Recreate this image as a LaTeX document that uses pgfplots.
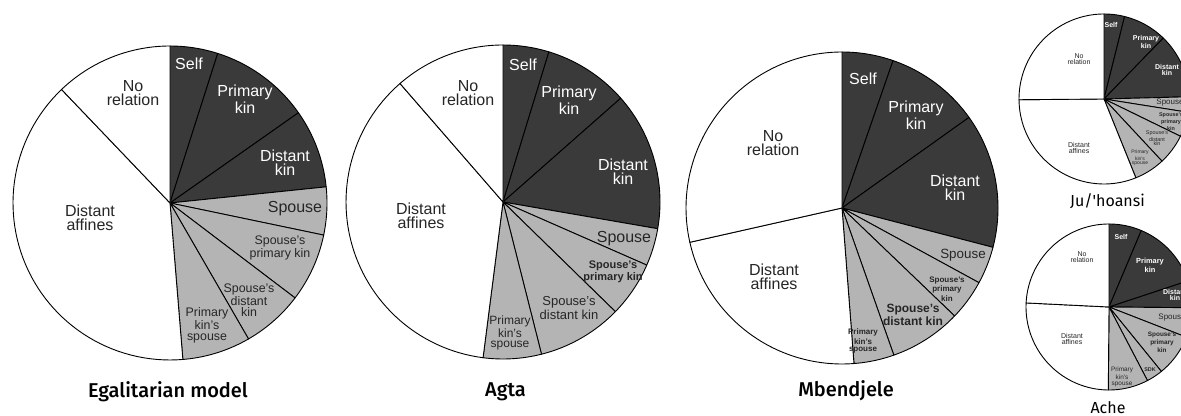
\documentclass[border=0pt]{standalone}
\usepackage{pgfplots}
\pgfplotsset{compat=1.18}
\usepackage{fontspec}
\setmainfont{Liberation Sans}
\newfontfamily\titlefont{Fira Sans Medium}
\newfontfamily\subfont{Fira Sans}

\definecolor{darkslice}{HTML}{3A3A3A}
\definecolor{lightslice}{HTML}{B4B4B4}
\definecolor{ink}{HTML}{262626}

% one pie = one hidden axis, radius 1 in axis units
\pgfplotsset{pie/.style={hide axis, scale only axis, width=#1, height=#1,
    xmin=-1, xmax=1, ymin=-1, ymax=1, anchor=center, clip=false}}

% slice from angle #1 to #2 (degrees, clockwise from 12 o'clock)
\newcommand{\slice}[3]{%
  \addplot[draw=black, line width=0.45pt, line join=round, fill=#3,
           domain=#1:#2, samples=60] ({sin(x)},{cos(x)}) -- (axis cs:0,0) -- cycle;}

% label in image pixels: x, y, size, colour, text
\newcommand{\lab}[5]{%
  \pgfmathsetmacro\labbs{#3*0.86}%
  \node[align=center, inner sep=0pt, text=#4,
        font=\fontsize{#3}{\labbs}\selectfont] at (#1,#2) {#5};}

\begin{document}
\begin{tikzpicture}
\useasboundingbox (0,0) rectangle (590.5pt,208pt);
\clip (0,0) rectangle (590.5pt,208pt);

% Egalitarian model
\begin{axis}[pie=157pt, at={(85pt,106.5pt)}]
\slice{0}{17.7}{darkslice}
\slice{17.7}{54.9}{darkslice}
\slice{54.9}{84.1}{darkslice}
\slice{84.1}{101.8}{lightslice}
\slice{101.8}{127.2}{lightslice}
\slice{127.2}{150}{lightslice}
\slice{150}{175.3}{lightslice}
\slice{175.3}{316.3}{white}
\slice{316.3}{360}{white}
\end{axis}

% Agta
\begin{axis}[pie=157pt, at={(251.5pt,107pt)}]
\slice{0}{17}{darkslice}
\slice{17}{48.6}{darkslice}
\slice{48.6}{99.8}{darkslice}
\slice{99.8}{113.7}{lightslice}
\slice{113.7}{134.3}{lightslice}
\slice{134.3}{165.8}{lightslice}
\slice{165.8}{187.3}{lightslice}
\slice{187.3}{319}{white}
\slice{319}{360}{white}
\end{axis}

% Mbendjele
\begin{axis}[pie=156pt, at={(421pt,104pt)}]
\slice{0}{19.1}{darkslice}
\slice{19.1}{54.5}{darkslice}
\slice{54.5}{104.6}{darkslice}
\slice{104.6}{118.6}{lightslice}
\slice{118.6}{133.8}{lightslice}
\slice{133.8}{160.6}{lightslice}
\slice{160.6}{175.6}{lightslice}
\slice{175.6}{257.3}{white}
\slice{257.3}{360}{white}
\end{axis}

% Ju/'hoansi
\begin{axis}[pie=85pt, at={(552pt,158.5pt)}]
\slice{0}{14}{darkslice}
\slice{14}{44.2}{darkslice}
\slice{44.2}{88.5}{darkslice}
\slice{88.5}{99}{lightslice}
\slice{99}{116}{lightslice}
\slice{116}{137}{lightslice}
\slice{137}{158}{lightslice}
\slice{158}{269.5}{white}
\slice{269.5}{360}{white}
\end{axis}

% Ache
\begin{axis}[pie=83pt, at={(554.5pt,54.5pt)}]
\slice{0}{22.9}{darkslice}
\slice{22.9}{71.7}{darkslice}
\slice{71.7}{90.5}{darkslice}
\slice{90.5}{111.3}{lightslice}
\slice{111.3}{140.9}{lightslice}
\slice{140.9}{152.4}{lightslice}
\slice{152.4}{180.5}{lightslice}
\slice{180.5}{272.8}{white}
\slice{272.8}{360}{white}
\end{axis}

\begin{scope}[x=0.5pt, y=-0.5pt, shift={(0,208pt)}]
% Egalitarian model
\lab{189}{64}{8}{white}{Self}
\lab{245}{99}{8}{white}{Primary\\kin}
\lab{285}{163}{8}{white}{Distant\\kin}
\lab{295}{209}{8}{ink}{Spouse}
\lab{280}{248}{6.2}{ink}{Spouse's\\primary kin}
\lab{249}{300}{6.2}{ink}{Spouse's\\distant\\kin}
\lab{207}{325}{6.2}{ink}{Primary\\kin's\\spouse}
\lab{90}{218}{8}{ink}{Distant\\affines}
\lab{133}{93}{8}{ink}{No\\relation}
% Agta
\lab{523}{65}{8}{white}{Self}
\lab{569}{100}{8}{white}{Primary\\kin}
\lab{623}{172}{8}{white}{Distant\\kin}
\lab{624}{239}{8}{ink}{Spouse}
\lab{613}{272}{5.5}{ink}{\bfseries Spouse's\\\bfseries primary kin}
\lab{569}{308}{6.5}{ink}{Spouse's\\distant kin}
\lab{510}{333}{6}{ink}{Primary\\kin's\\spouse}
\lab{421}{216}{8}{ink}{Distant\\affines}
\lab{468}{93}{8}{ink}{No\\relation}
% Mbendjele
\lab{863}{79}{8}{white}{Self}
\lab{916}{115}{8}{white}{Primary\\kin}
\lab{955}{188}{8}{white}{Distant\\kin}
\lab{963}{255}{6.7}{ink}{Spouse}
\lab{947}{289}{4}{ink}{\bfseries Spouse's\\\bfseries primary\\\bfseries kin}
\lab{913}{315}{6}{ink}{\bfseries Spouse's\\\bfseries distant kin}
\lab{863}{341}{4}{ink}{\bfseries Primary\\\bfseries kin's\\\bfseries spouse}
\lab{774}{277}{8}{ink}{Distant\\affines}
\lab{773}{143}{8}{ink}{No\\relation}
% Ju/'hoansi
\lab{1111}{25}{3.5}{white}{\bfseries Self}
\lab{1146}{42}{3.5}{white}{\bfseries Primary\\\bfseries kin}
\lab{1167}{70}{3.5}{white}{\bfseries Distant\\\bfseries kin}
\lab{1170}{103}{4}{ink}{Spouse}
\lab{1171}{122}{2.7}{ink}{\bfseries Spouse's\\\bfseries primary\\\bfseries kin}
\lab{1157}{138}{2.7}{ink}{Spouse's\\distant\\kin}
\lab{1140}{158}{2.5}{ink}{Primary\\kin's\\spouse}
\lab{1079}{148}{3.5}{ink}{Distant\\affines}
\lab{1079}{59}{3.5}{ink}{No\\relation}
% Ache
\lab{1121}{237}{3.5}{white}{\bfseries Self}
\lab{1150}{265}{3.7}{white}{\bfseries Primary\\\bfseries kin}
\lab{1175}{295}{3.5}{white}{\bfseries Distant\\\bfseries kin}
\lab{1172}{318}{4}{ink}{Spouse}
\lab{1162}{342}{3.2}{ink}{\bfseries Spouse's\\\bfseries primary\\\bfseries kin}
\lab{1150}{370}{2.7}{ink}{\bfseries SDK}
\lab{1122}{377}{3.2}{ink}{Primary\\kin's\\spouse}
\lab{1072}{339}{3.5}{ink}{Distant\\affines}
\lab{1082}{257}{3.5}{ink}{No\\relation}

% titles
\node[anchor=base, inner sep=0pt, font=\titlefont\fontsize{10}{11}\selectfont] at (168,397.7) {Egalitarian model};
\node[anchor=base, inner sep=0pt, font=\titlefont\fontsize{10}{11}\selectfont] at (505.5,396.7) {Agta};
\node[anchor=base, inner sep=0pt, font=\titlefont\fontsize{10}{11}\selectfont] at (846,396.7) {Mbendjele};
\node[anchor=base, inner sep=0pt, font=\subfont\fontsize{8}{9}\selectfont] at (1107.5,206.7) {Ju/'hoansi};
\node[anchor=base, inner sep=0pt, font=\subfont\fontsize{8}{9}\selectfont] at (1108,413.3) {Ache};
\end{scope}
\end{tikzpicture}
\end{document}
